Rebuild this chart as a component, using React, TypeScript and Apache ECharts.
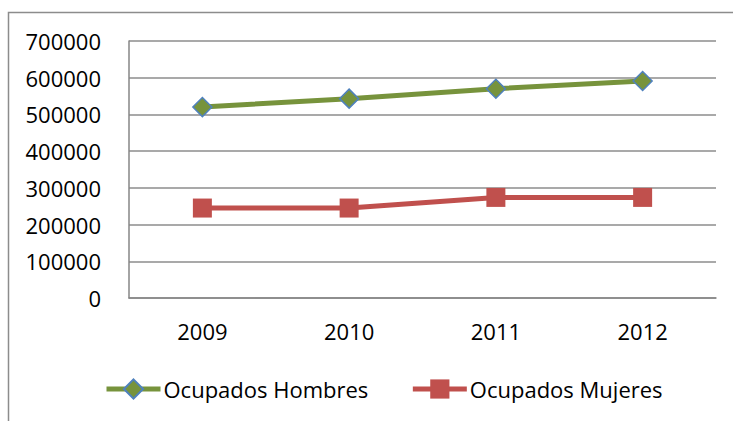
import React, { useEffect, useRef } from "react";
import * as echarts from "echarts";

const categories = ["2009", "2010", "2011", "2012"];
const hombres = [520000, 543000, 570000, 591000];
const mujeres = [245000, 245000, 274000, 274000];
const seriesNames = ["Ocupados Hombres", "Ocupados Mujeres"];

const FONT = "'Open Sans', 'Noto Sans', sans-serif";

export default function App() {
  const ref = useRef<HTMLDivElement>(null);
  useEffect(() => {
    document.body.style.margin = "0";
    const chart = echarts.init(ref.current!, null, { renderer: "svg" });
    chart.setOption({
      animation: false,
      backgroundColor: "#ffffff",
      textStyle: { fontFamily: FONT },
      graphic: [
        {
          type: "rect",
          shape: { x: 8.5, y: 12.5, width: 760, height: 440 },
          style: { fill: "none", stroke: "#8c8c8c", lineWidth: 1.5 },
          silent: true,
        },
      ],
      grid: { left: 129, right: 17, top: 41, bottom: 123, containLabel: false },
      legend: {
        left: 99,
        top: 373,
        itemWidth: 54,
        itemHeight: 24,
        itemGap: 42,
        textStyle: { fontFamily: FONT, fontSize: 22, color: "#000000", padding: [0, 0, 0, -2] },
        lineStyle: { width: 5 },
        data: seriesNames,
      },
      xAxis: {
        type: "category",
        data: categories,
        boundaryGap: true,
        axisLine: { show: true, lineStyle: { color: "#868686", width: 1.5 } },
        axisTick: { show: false },
        axisLabel: { color: "#000000", fontSize: 22, fontFamily: FONT, margin: 22 },
        splitLine: { show: false },
      },
      yAxis: {
        type: "value",
        min: 0,
        max: 700000,
        interval: 100000,
        axisLine: { show: true, lineStyle: { color: "#868686", width: 1.5 } },
        axisTick: { show: false },
        axisLabel: {
          color: "#000000",
          fontSize: 22,
          fontFamily: FONT,
          margin: 28,
          formatter: (v: number) => String(v),
        },
        splitLine: { show: true, lineStyle: { color: "#8c8c8c", width: 1.5 } },
      },
      series: [
        {
          name: seriesNames[0],
          type: "line",
          data: hombres,
          symbol: "diamond",
          symbolSize: 19,
          lineStyle: { color: "#77933C", width: 5 },
          itemStyle: { color: "#77933C", borderColor: "#4F81BD", borderWidth: 1.5 },
        },
        {
          name: seriesNames[1],
          type: "line",
          data: mujeres,
          symbol: "rect",
          symbolSize: 19,
          lineStyle: { color: "#C0504D", width: 5 },
          itemStyle: { color: "#C0504D", borderColor: "#C0504D", borderWidth: 0 },
        },
      ],
    });
    return () => chart.dispose();
  }, []);
  return <div ref={ref} style={{ width: 733, height: 421 }} />;
}
